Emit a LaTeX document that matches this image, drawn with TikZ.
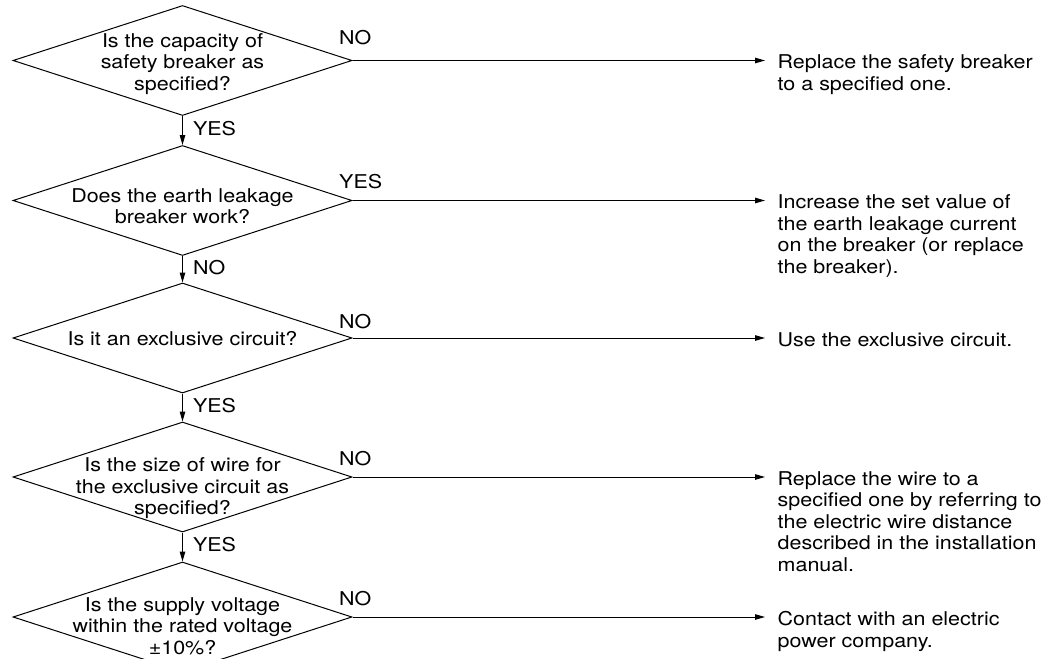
\documentclass[tikz,border=0pt]{standalone}
\usepackage{fontspec}
\setmainfont[FakeStretch=1.13]{TeX Gyre Heros}
\usetikzlibrary{shapes.geometric,arrows.meta}

\begin{document}
\begin{tikzpicture}[
    x=1pt, y=-1pt,
    font=\fontsize{19}{21.5}\selectfont,
    ask node/.style={diamond, draw=black, line width=1pt, inner sep=0pt, minimum width=339pt, minimum height=110pt},
    ask text/.style={align=center, inner sep=0pt},
    do node/.style={anchor=north west, align=left, inner sep=0pt},
    tag node/.style={anchor=west, inner sep=0pt},
    flow edge/.style={line width=1pt, draw=black, -{Triangle[length=10pt, width=5.5pt]}}
]
\useasboundingbox (0,0) rectangle (1051,658);

% questions (diamonds)
\node[ask node] (Q1) at (182.5, 60.5) {};
\node[ask node] (Q2) at (182.5, 200.5) {};
\node[ask node] (Q3) at (182.5, 338) {};
\node[ask node] (Q4) at (182.5, 477) {};
\node[ask node] (Q5) at (182.5, 617) {};

% texts inside the diamonds
\node[ask text] (T1) at (182.5, 64)    {Is the capacity of\\safety breaker as\\specified?};
\node[ask text] (T2) at (182.5, 206)   {Does the earth leakage\\breaker work?};
\node[ask text] (T3) at (182.5, 339)   {Is it an exclusive circuit?};
\node[ask text] (T4) at (182.5, 488.5) {Is the size of wire for\\the exclusive circuit as\\specified?};
\node[ask text] (T5) at (182.5, 626)   {Is the supply voltage\\within the rated voltage\\±10\%?};

% actions on the right
\node[do node] (A1) at (777.5, 54.8)  {Replace the safety breaker\\to a specified one.};
\node[do node] (A2) at (777.5, 194.8) {Increase the set value of\\the earth leakage current\\on the breaker (or replace\\the breaker).};
\node[do node] (A3) at (777.5, 332.3) {Use the exclusive circuit.};
\node[do node] (A4) at (777.5, 471.3) {Replace the wire to a\\specified one by referring to\\the electric wire distance\\described in the installation\\manual.};
\node[do node] (A5) at (777.5, 611.3) {Contact with an electric\\power company.};

% arrows down
\foreach \a/\b/\t in {1/2/YES, 2/3/NO, 3/4/YES, 4/5/YES}
  \draw[flow edge] (Q\a) -- (Q\b) node[midway, tag node, xshift=10pt, yshift=2pt] (D\a) {\t};

% arrows to the right
\foreach \i/\t/\dy in {1/NO/22.5, 2/YES/18.5, 3/NO/16.5, 4/NO/18, 5/NO/18.7} {
  \draw[flow edge, shorten >=12.5pt] (Q\i.east) -- (Q\i.east -| A\i.west);
  \node[tag node] (R\i) at ([shift={(-13.5,-\dy)}]Q\i.east) {\t};
}

\end{tikzpicture}
\end{document}
